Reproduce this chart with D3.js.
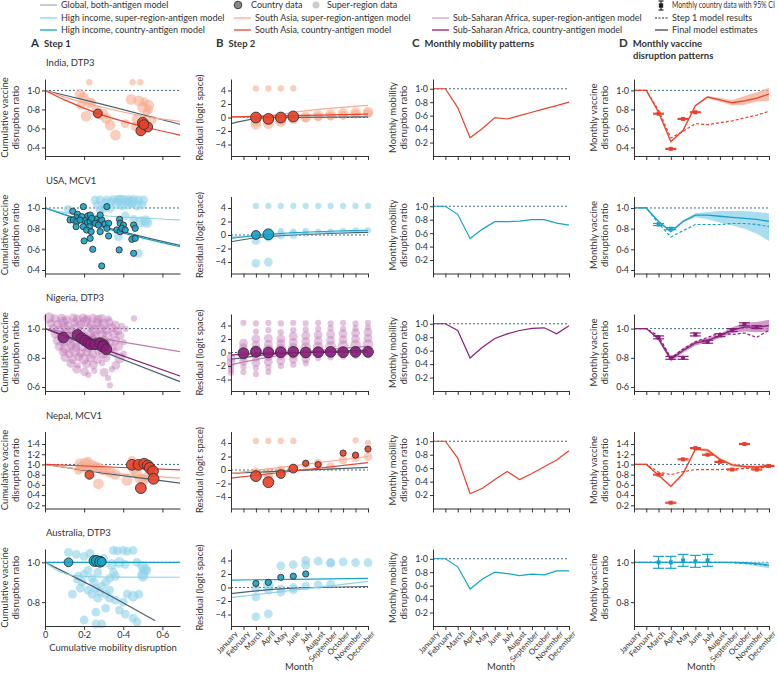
<!DOCTYPE html>
<html>
<head>
<meta charset="utf-8">
<script src="https://cdn.jsdelivr.net/npm/d3@7"></script>
<style>
body { margin: 0; background: #fff; }
text { font-family: Lato, 'Noto Sans', sans-serif; fill: #333; }
</style>
</head>
<body>
<div class="chart"></div>
<script>
// ---- data ----
const months = ['January','February','March','April','May','June','July','August','September','October','November','December'];
const rowTitles = ['India, DTP3','USA, MCV1','Nigeria, DTP3','Nepal, MCV1','Australia, DTP3'];
const rowRegion = ['sa','hi','ssa','sa','hi'];

// y axis settings for step 1 / panel D (per row)
const vacDomain = [[0.31,1.12],[0.366,1.111],[0.573,1.10],[0.137,1.645],[0.68,1.067]];
const vacTicks = [[0.4,0.6,0.8,1.0],[0.4,0.6,0.8,1.0],[0.6,0.8,1.0],[0.2,0.4,0.6,0.8,1.0,1.2,1.4],[0.8,1.0]];
const mobTicks = [0.2,0.4,0.6,0.8,1.0];
const residTicks = [-4,-2,0,2,4];
const mobilityTicks = [0,0.2,0.4,0.6];

// Step 1: [mobility disruption, vaccine ratio, weight]
const aSuper = [
  [[0.226,1.087,1],[0.448,1.087,1],[0.487,1.087,1],[0.18,0.958,3],[0.197,0.924,3],[0.227,0.868,3],[0.183,0.844,2],[0.265,0.785,3],[0.21,0.73,3],[0.313,0.705,3],[0.333,0.635,3],[0.36,0.53,3],[0.41,0.65,2],[0.44,0.906,3],[0.48,0.89,3],[0.508,0.88,2],[0.53,0.844,3],[0.52,0.775,2],[0.47,0.69,3],[0.46,0.62,2],[0.547,0.69,2],[0.52,0.636,1],[0.282,0.74,2],[0.495,0.6,3],[0.24,0.87,2],[0.3,0.76,2],[0.5,0.82,3],[0.53,0.8,2]],
  [[0.256,1.077,2],[0.282,1.077,2],[0.316,1.077,2],[0.35,1.084,2],[0.376,1.084,2],[0.401,1.084,2],[0.427,1.084,2],[0.453,1.084,2],[0.478,1.077,2],[0.504,1.077,2],[0.268,1.029,2],[0.299,0.997,2],[0.333,0.997,2],[0.367,1.045,3],[0.393,1.029,3],[0.419,1.039,3],[0.444,1.039,2],[0.47,1.029,3],[0.496,1.029,2],[0.282,0.981,2],[0.41,0.923,2],[0.453,0.89,2],[0.487,0.868,3],[0.513,0.877,3],[0.521,0.858,3],[0.119,0.987,2],[0.376,0.723,2],[0.478,0.561,2],[0.384,1.077,3],[0.444,1.061,3],[0.34,1.06,2],[0.31,1.05,2],[0.42,1.06,2]],
  [[0.02,1.075,3],[0.05,1.068,2],[0.085,1.072,2],[0.11,1.062,2],[0.145,1.074,2],[0.165,1.066,2],[0.195,1.073,2],[0.215,1.065,2],[0.245,1.071,2],[0.27,1.064,2],[0.29,1.07,2],[0.325,1.068,1],[0.455,1.07,1],
   [0.03,1.035,2],[0.065,1.03,2],[0.092,1.045,3],[0.118,1.022,2],[0.152,1.042,2],[0.183,1.028,2],[0.205,1.048,3],[0.238,1.025,2],[0.268,1.04,2],[0.3,1.03,3],[0.328,1.045,2],[0.36,1.025,2],[0.392,1.018,1],
   [0.042,1.002,2],[0.072,0.985,3],[0.098,1.012,2],[0.132,0.99,2],[0.162,1.004,3],[0.188,0.982,2],[0.228,1.008,2],[0.252,0.988,3],[0.282,1.0,3],[0.314,0.99,2],[0.343,1.006,2],[0.372,0.984,2],[0.412,0.998,1],
   [0.052,0.962,2],[0.083,0.948,2],[0.108,0.968,3],[0.142,0.952,2],[0.172,0.962,2],[0.198,0.944,3],[0.232,0.966,2],[0.258,0.952,2],[0.292,0.962,2],[0.318,0.946,3],[0.352,0.966,2],[0.384,0.952,2],
   [0.062,0.918,2],[0.094,0.906,2],[0.122,0.928,2],[0.148,0.912,3],[0.182,0.922,2],[0.212,0.904,2],[0.242,0.926,3],[0.272,0.91,2],[0.302,0.922,2],[0.334,0.906,2],[0.362,0.918,2],[0.402,0.908,1],
   [0.072,0.878,2],[0.104,0.866,3],[0.134,0.886,2],[0.158,0.872,2],[0.192,0.882,3],[0.222,0.866,2],[0.254,0.884,2],[0.282,0.872,2],[0.308,0.882,3],[0.342,0.868,2],[0.378,0.878,2],
   [0.092,0.842,2],[0.124,0.828,2],[0.152,0.846,3],[0.184,0.832,2],[0.214,0.842,2],[0.244,0.826,2],[0.274,0.846,2],[0.298,0.832,3],[0.352,0.838,2],[0.402,0.828,1],
   [0.102,0.802,2],[0.142,0.788,2],[0.172,0.806,2],[0.198,0.792,3],[0.232,0.8,2],[0.268,0.788,2],[0.312,0.802,2],[0.382,0.8,3],
   [0.132,0.762,2],[0.168,0.748,1],[0.212,0.758,2],[0.248,0.752,2],[0.292,0.764,1],[0.362,0.748,2],
   [0.162,0.722,2],[0.202,0.704,2],[0.252,0.712,1],[0.302,0.7,2],[0.342,0.722,1],[0.222,0.684,1],[0.322,0.662,1],[0.332,0.612,1]],
  [[0.179,1.013,3],[0.205,1.026,3],[0.222,1.065,2],[0.188,0.947,3],[0.213,0.934,3],[0.239,0.98,3],[0.256,0.96,3],[0.273,0.934,3],[0.29,0.895,3],[0.313,0.882,3],[0.333,0.85,3],[0.359,0.804,3],[0.273,0.621,3],[0.419,0.686,3],[0.444,1.078,2],[0.453,0.915,3],[0.47,0.817,3],[0.487,0.719,3],[0.504,0.686,3],[0.521,0.752,3],[0.231,0.915,2],[0.171,0.882,2],[0.538,0.869,2]],
  [[0.16,1.04,2],[0.2,1.03,2],[0.23,1.045,2],[0.35,1.06,2],[0.37,1.058,2],[0.4,1.06,2],[0.42,1.055,2],[0.45,1.06,2],[0.3,1.02,2],[0.34,0.99,3],[0.38,1.0,3],[0.41,0.99,2],[0.47,1.0,2],[0.5,0.98,3],[0.51,0.965,3],[0.5,0.94,3],[0.52,0.96,2],[0.35,0.95,2],[0.27,0.95,2],[0.22,0.96,2],[0.17,0.93,2],[0.2,0.94,2],[0.16,0.91,1],[0.19,0.9,2],[0.24,0.92,2],[0.25,0.9,2],[0.29,0.88,2],[0.31,0.9,2],[0.33,0.92,2],[0.36,0.93,2],[0.26,0.87,2],[0.22,0.86,2],[0.24,0.84,2],[0.28,0.85,2],[0.31,0.84,2],[0.33,0.86,2],[0.27,0.82,2],[0.33,0.82,2],[0.36,0.81,2],[0.4,0.8,2],[0.42,0.84,2],[0.45,0.83,3],[0.48,0.84,2],[0.38,0.76,2],[0.41,0.74,2],[0.45,0.72,2],[0.47,0.7,2],[0.26,0.75,2],[0.31,0.77,2],[0.2,0.71,2],[0.26,0.69,2],[0.14,0.84,2],[0.18,0.87,2],[0.29,0.69,2],[0.12,1.05,2],[0.5,0.93,3]]
];
const aCountry = [
  [[0.27,0.757,2],[0.5,0.66,3],[0.49,0.575,2.5],[0.525,0.615,2.5],[0.505,0.64,2.5]],
  [[0.142,0.968,1],[0.166,0.939,1],[0.162,0.906,1],[0.188,0.916,1],[0.128,0.884,1],[0.145,0.884,1],[0.162,0.868,1],[0.159,0.819,1],[0.196,1.013,1],[0.219,0.923,1],[0.231,0.932,1],[0.205,0.877,1],[0.217,0.858,1],[0.231,0.868,1],[0.248,0.884,1],[0.265,0.89,1],[0.282,0.868,1],[0.256,0.852,1],[0.273,0.835,1],[0.29,0.884,1],[0.307,0.845,1],[0.316,1.013,1],[0.325,0.852,1],[0.227,0.819,1],[0.196,0.819,1],[0.213,0.787,1],[0.236,0.771,1],[0.282,0.771,1],[0.316,0.803,1],[0.325,0.729,1],[0.2,0.681,1],[0.231,0.706,1],[0.244,0.6,1],[0.29,0.439,1],[0.381,0.89,1],[0.384,0.852,1],[0.367,0.787,1],[0.384,0.771,1],[0.401,0.835,1],[0.393,0.803,1],[0.41,0.787,1],[0.379,0.594,1],[0.453,0.835,1],[0.461,0.803,1],[0.444,0.697,1],[0.461,0.706,1],[0.453,0.561,1],[0.282,0.932,1],[0.239,0.9,1],[0.179,0.884,1]],
  [[0.094,0.939,3],[0.166,0.957,3],[0.188,0.934,3],[0.205,0.918,3],[0.222,0.904,3],[0.234,0.893,3],[0.256,0.893,3],[0.282,0.9,3],[0.299,0.888,3],[0.296,0.877,3],[0.313,0.859,3]],
  [[0.227,0.797,2],[0.444,0.993,3],[0.478,0.993,3],[0.507,1.013,3],[0.525,0.98,3],[0.535,0.934,3],[0.552,0.869,3],[0.555,0.719,3],[0.49,0.536,3]],
  [[0.12,1.0,2],[0.253,1.007,3],[0.265,1.007,3],[0.282,1.003,3],[0.29,1.003,2]]
];
// Step 1 model curves: [mobility disruption, ratio]
const aGlobalLine = [
  [[0,1],[0.3,0.85],[0.69,0.643]],
  [[0,1],[0.3,0.82],[0.69,0.638]],
  [[0,1],[0.3,0.84],[0.69,0.637]],
  [[0,1],[0.3,0.83],[0.69,0.634]],
  [[0,1],[0.3,0.85],[0.564,0.706]]
];
const aSuperLine = [
  [[0,1],[0.1,0.93],[0.3,0.82],[0.5,0.73],[0.69,0.675]],
  [[0,1],[0.1,0.955],[0.3,0.925],[0.69,0.884]],
  [[0,1],[0.3,0.93],[0.69,0.843]],
  [[0,1],[0.3,0.85],[0.69,0.732]],
  [[0,1],[0.077,0.953],[0.15,0.933],[0.3,0.926],[0.69,0.925]]
];
const aCountryLine = [
  [[0,1],[0.1,0.9],[0.28,0.75],[0.5,0.62],[0.69,0.53]],
  [[0,1],[0.3,0.81],[0.69,0.625]],
  [[0,1],[0.3,0.86],[0.69,0.676]],
  [[0,1],[0.3,0.955],[0.69,0.895]],
  [[0,1],[0.69,1]]
];

// Step 2 residuals: [month index, residual, weight]
const bSuper = [
  [[2,4.3,1],[2,-0.5,3],[2,-1.0,3],[3,4.3,1],[3,-0.4,3],[3,-0.9,3],[4,4.3,1],[4,-0.3,3],[4,-0.6,3],[5,4.3,1],[5,-0.2,3],[6,0.1,3],[6,-0.1,2],[7,0.3,3],[7,0.1,2],[8,0.4,3],[8,0.2,2],[9,0.6,3],[9,0.3,2],[10,0.7,3],[10,0.5,2],[11,0.8,3],[11,0.6,2]],
  [[2,4.3,1],[2,0.1,2],[2,-0.8,2],[2,-4.2,2],[3,4.3,1],[3,0.3,2],[3,-0.3,2],[3,-4.0,2],[4,4.3,1],[4,0.6,1],[4,0,2],[5,4.3,1],[5,0.5,1],[5,0.1,2],[6,4.3,1],[6,0.6,1],[6,0.2,1],[7,4.3,1],[7,0.5,1],[8,4.3,1],[8,0.5,1],[9,4.3,1],[9,0.6,1],[10,4.3,1],[10,0.7,1],[11,4.3,1],[11,0.7,1]],
  [[0,-0.8,2],[0,-1.5,2],[0,-2.1,1],[0,-2.6,1],[0,-3.0,1],
   [1,4.4,1],[1,1.4,2],[1,0.7,2],[1,-0.6,2],[1,-1.3,2],[1,-2.1,1],[1,-2.9,1],
   [2,4.3,1],[2,3.1,1],[2,2.0,2],[2,1.1,2],[2,0.3,3],[2,-0.7,2],[2,-1.5,2],[2,-2.3,1],[2,-3.2,1],
   [3,4.4,1],[3,3.3,1],[3,2.1,2],[3,1.2,2],[3,0.4,3],[3,-0.6,2],[3,-1.4,2],[3,-2.2,1],[3,-2.9,1],
   [4,4.3,1],[4,3.0,1],[4,2.0,2],[4,1.3,2],[4,0.5,3],[4,-0.4,2],[4,-1.2,2],[4,-2.0,1],
   [5,4.4,1],[5,3.3,1],[5,2.4,2],[5,1.5,2],[5,0.6,3],[5,-0.3,2],[5,-1.0,2],[5,-1.8,1],
   [6,4.3,1],[6,3.4,1],[6,2.5,2],[6,1.6,2],[6,0.7,3],[6,-0.2,2],[6,-0.9,2],[6,-1.6,1],
   [7,4.4,1],[7,3.5,1],[7,2.6,2],[7,1.7,2],[7,0.8,3],[7,0,2],[7,-0.8,1],
   [8,4.3,1],[8,3.6,1],[8,2.7,2],[8,1.8,2],[8,0.9,3],[8,0.1,2],[8,-0.7,1],
   [9,4.4,1],[9,3.5,1],[9,2.8,2],[9,1.9,2],[9,1.0,3],[9,0.2,2],[9,-0.6,1],
   [10,4.3,1],[10,3.6,1],[10,2.9,2],[10,2.0,2],[10,1.1,3],[10,0.3,2],[10,-0.5,1],
   [11,4.4,1],[11,3.7,1],[11,3.0,2],[11,2.1,2],[11,1.2,3],[11,0.4,2],[11,-0.4,1]],
  [[2,4.3,1],[2,-0.3,2],[3,4.3,1],[3,-0.5,3],[3,-1.0,2],[4,4.3,1],[4,0,2],[4,-0.3,2],[5,4.3,1],[5,0.3,2],[6,0.8,2],[7,1.0,2],[8,0.5,2],[9,1.5,2],[10,4.4,1],[10,1.8,2],[11,4.0,1],[11,2.0,2]],
  [[2,-0.1,2],[2,-1.4,2],[2,-4.3,2],[3,0.35,3],[3,-0.4,2],[3,-3.9,2],[4,3.2,2],[4,-0.2,2],[4,-0.7,2],[5,3.4,2],[5,0,2],[5,-0.35,2],[6,4.0,2],[6,3.3,2],[6,0.2,2],[7,3.9,2],[7,0.4,2],[8,3.7,2],[8,3.6,2],[8,0.5,2],[9,3.8,2],[10,3.7,2],[11,3.7,2]]
];
const bCountry = [
  [[2,0,3],[3,-0.2,3],[4,0,3],[5,0.15,3]],
  [[2,0,2],[3,0.1,3]],
  [[1,-0.1,3],[2,0.1,3],[3,0,3],[4,0.05,3],[5,0.1,3],[6,0,3],[7,0.05,3],[8,0.1,3],[9,0.05,3],[10,0.1,3],[11,0.1,3]],
  [[2,-0.9,3],[3,-1.8,3],[4,-0.6,2],[5,0.2,2],[6,1.0,1],[7,0.8,1],[9,2.5,1],[10,2.2,1],[11,3.1,1]],
  [[2,0.6,1],[3,0.76,1],[4,1.5,1],[5,1.67,1],[6,2.0,1]]
];
const bGlobalLine = [
  [[0,-0.9],[3,0],[11,0.1]],
  [[0,-1.0],[3,-0.2],[11,0.4]],
  [[0,-1.0],[3,-0.3],[11,0.3]],
  [[0,-0.5],[11,0.4]],
  [[0,-0.9],[4,-0.2],[11,0.15]]
];
const bSuperLine = [
  [[0,0],[3,0.3],[7,1.2],[11,1.8]],
  [[0,-0.3],[11,0.6]],
  [[0,-1.8],[4,-0.4],[11,0.9]],
  [[0,-0.5],[11,2.0]],
  [[0,-1.5],[11,0.9]]
];
const bCountryLine = [
  [[0,0.1],[11,0.5]],
  [[0,-0.5],[3,0.1],[11,0.7]],
  [[0,-0.4],[3,-0.1],[11,0.1]],
  [[0,-1.2],[11,1.1]],
  [[0,1.1],[11,1.35]]
];

// Monthly mobility disruption ratio
const mobility = [
  [1,1,0.72,0.27,0.41,0.57,0.55,0.6,0.65,0.7,0.75,0.8],
  [1,1,0.88,0.52,0.66,0.77,0.77,0.78,0.8,0.8,0.75,0.72],
  [1,1,0.9,0.49,0.65,0.78,0.85,0.9,0.93,0.94,0.85,0.97],
  [1,1,0.75,0.22,0.3,0.43,0.55,0.43,0.52,0.62,0.72,0.86],
  [1,1,0.88,0.55,0.7,0.8,0.78,0.75,0.77,0.76,0.82,0.82]
];

// Monthly vaccine disruption: final estimate, 95% UI, step 1 result
const dFinal = [
  [1,1,0.77,0.46,0.58,0.84,0.93,0.9,0.87,0.89,0.92,0.96],
  [1,1,0.87,0.77,0.87,0.93,0.93,0.92,0.91,0.9,0.89,0.87],
  [1,1,0.93,0.79,0.85,0.9,0.92,0.95,0.99,1.01,1.01,1.02],
  [1,1,0.79,0.57,0.82,1.3,1.28,1.1,0.99,0.96,0.95,0.97],
  [1,1,1,1,1,1,1,1,1,0.998,0.993,0.985]
];
const dLow = [
  [1,1,0.76,0.45,0.57,0.83,0.92,0.88,0.84,0.85,0.88,0.89],
  [1,1,0.86,0.76,0.86,0.91,0.89,0.86,0.83,0.8,0.75,0.68],
  [1,1,0.915,0.775,0.835,0.885,0.905,0.935,0.97,0.98,0.975,0.98],
  [1,1,0.77,0.55,0.8,1.27,1.25,1.07,0.96,0.93,0.92,0.93],
  [1,1,1,1,1,1,1,0.998,0.995,0.99,0.98,0.97]
];
const dHigh = [
  [1,1,0.78,0.47,0.59,0.85,0.94,0.92,0.9,0.94,0.98,1.03],
  [1,1,0.88,0.78,0.88,0.95,0.96,0.97,0.97,0.97,0.96,0.95],
  [1,1,0.945,0.805,0.865,0.915,0.935,0.965,1.01,1.04,1.045,1.06],
  [1,1,0.81,0.59,0.84,1.33,1.31,1.13,1.02,0.99,0.98,1.01],
  [1,1,1,1,1,1,1,1.002,1.003,1.003,1.002,1.0]
];
const dStep1 = [
  [1,1,0.79,0.5,0.57,0.65,0.64,0.66,0.68,0.71,0.74,0.78],
  [1,1,0.85,0.72,0.78,0.84,0.84,0.84,0.85,0.85,0.84,0.82],
  [1,1,0.95,0.8,0.86,0.91,0.94,0.97,0.96,0.97,0.94,0.99],
  [1,1,0.85,0.8,0.86,0.9,0.9,0.9,0.91,0.92,0.93,0.95],
  [1,1,1,1,1,1,1,1,0.998,0.995,0.99,0.985]
];
// observed monthly country data: [month index, value, lower, upper]
const dObs = [
  [[2,0.755,0.75,0.76],[3,0.385,0.38,0.39],[4,0.70,0.695,0.705],[5,0.77,0.765,0.775]],
  [[2,0.84,0.83,0.85],[3,0.80,0.79,0.81]],
  [[2,0.94,0.93,0.95],[3,0.80,0.79,0.81],[4,0.80,0.79,0.81],[5,0.96,0.95,0.97],[6,0.91,0.90,0.92],[7,0.955,0.945,0.965],[8,0.99,0.98,1.0],[9,1.03,1.02,1.04],[10,1.01,1.0,1.02]],
  [[2,0.8,0.79,0.81],[3,0.25,0.24,0.26],[4,1.1,1.09,1.11],[5,1.32,1.31,1.33],[6,1.19,1.18,1.2],[7,1.05,1.04,1.06],[8,0.9,0.89,0.91],[9,1.4,1.39,1.41],[10,0.9,0.89,0.91],[11,0.97,0.96,0.98]],
  [[2,1.0,0.97,1.03],[3,1.0,0.97,1.03],[4,1.01,0.98,1.04],[5,1.005,0.975,1.035],[6,1.01,0.98,1.04]]
];

// ---- styles / layout ----
const regionColors = { sa: ['#f6ab90', '#e8412a'], hi: ['#8ed2ea', '#17a3c7'], ssa: ['#c07ab5', '#8b1d7b'] };
const globalColor = '#4a6170';
const refColor = '#3f6a85';
const axisColor = '#333';
const W = 778, H = 673;
const colX = { A: [45, 180], B: [231, 368], C: [433, 569], D: [634, 769] };
const rowTop = r => 79 + r * 117.5;
const ph = 77;

const svg = d3.select('.chart').append('svg')
  .attr('width', W)
  .attr('height', H);

const fmt = d => d === 0 ? '0' : d3.format('.1f')(d).replace('.', '\u00b7');
const fmtInt = d => d < 0 ? '\u2212' + Math.abs(d) : String(d);
const rScale = d3.scaleSqrt().domain([0, 3]).range([0, 5.4]);

function yAxis(g, y, x0, ticks, f) {
  const ax = g.append('g').attr('transform', `translate(${x0},0)`)
    .call(d3.axisLeft(y).tickValues(ticks).tickFormat(f).tickSize(3).tickSizeOuter(0).tickPadding(2));
  ax.select('.domain').attr('stroke', axisColor);
  ax.selectAll('.tick line').attr('stroke', axisColor);
  ax.selectAll('.tick text').style('font-size', '9px').attr('fill', '#333');
  return ax;
}
function xAxis(g, x, yPos, ticks, f, showLabels) {
  const a = d3.axisBottom(x).tickSize(4).tickSizeOuter(0).tickPadding(2);
  if (ticks) a.tickValues(ticks);
  a.tickFormat(showLabels ? f : '');
  const ax = g.append('g').attr('transform', `translate(0,${yPos})`).call(a);
  ax.select('.domain').attr('stroke', axisColor);
  ax.selectAll('.tick line').attr('stroke', axisColor);
  ax.selectAll('.tick text').style('font-size', '9px').attr('fill', '#333');
  return ax;
}
function monthLabels(ax) {
  ax.selectAll('.tick text')
    .style('font-size', '8px')
    .attr('text-anchor', 'end')
    .attr('transform', 'rotate(-48)')
    .attr('dx', '-0.2em')
    .attr('dy', '0.55em');
}
function yLabel(lines, x, yc) {
  lines.forEach((t, i) => {
    svg.append('text')
      .attr('transform', `translate(${x + i * 11},${yc}) rotate(-90)`)
      .attr('text-anchor', 'middle')
      .style('font-size', '9.5px')
      .text(t);
  });
}
function refLine(g, x0, x1, yv) {
  g.append('line')
    .attr('x1', x0).attr('x2', x1)
    .attr('y1', yv).attr('y2', yv)
    .attr('stroke', refColor)
    .attr('stroke-width', 1)
    .attr('stroke-dasharray', '2,2');
}

// ---- section headings ----
const heads = [['A', 'Step 1', 31, 47], ['B', 'Step 2', 216, 47], ['C', 'Monthly mobility patterns', 412, 47], ['D', 'Monthly vaccine', 619, 47]];
heads.forEach(h => {
  const t = svg.append('text').attr('x', h[2]).attr('y', h[3]);
  t.append('tspan').text(h[0]).style('font-size', '11.5px').style('font-weight', 'bold');
  t.append('tspan').attr('dx', 5).text(h[1]).style('font-size', '9.5px').style('font-weight', 'bold');
});
svg.append('text').attr('x', 633).attr('y', 59).text('disruption patterns').style('font-size', '9.5px').style('font-weight', 'bold');

// ---- rows ----
rowTitles.forEach((title, r) => {
  const top = rowTop(r), bot = top + ph;
  const [light, dark] = regionColors[rowRegion[r]];
  const last = r === rowTitles.length - 1;
  const op = rowRegion[r] === 'ssa' ? 0.45 : 0.6;
  const g = svg.append('g');

  g.append('text').attr('x', 46).attr('y', top - 13).text(title).style('font-size', '9.5px');

  // A: step 1
  const xA = d3.scaleLinear().domain([0, 0.69]).range(colX.A);
  const yA = d3.scaleLinear().domain(vacDomain[r]).range([bot, top]);
  refLine(g, colX.A[0], colX.A[1], yA(1));
  g.append('g').selectAll('circle').data(aSuper[r]).join('circle')
    .attr('cx', d => xA(d[0])).attr('cy', d => yA(d[1])).attr('r', d => rScale(d[2]))
    .attr('fill', light).attr('fill-opacity', op);
  const lineA = d3.line().x(d => xA(d[0])).y(d => yA(d[1])).curve(d3.curveMonotoneX);
  g.append('path').attr('d', lineA(aGlobalLine[r])).attr('fill', 'none').attr('stroke', globalColor).attr('stroke-width', 1.2);
  g.append('path').attr('d', lineA(aSuperLine[r])).attr('fill', 'none').attr('stroke', light).attr('stroke-width', 1.2);
  g.append('path').attr('d', lineA(aCountryLine[r])).attr('fill', 'none').attr('stroke', dark).attr('stroke-width', 1.2);
  g.append('g').selectAll('circle').data(aCountry[r]).join('circle')
    .attr('cx', d => xA(d[0])).attr('cy', d => yA(d[1])).attr('r', d => rScale(d[2]))
    .attr('fill', dark).attr('fill-opacity', 0.9).attr('stroke', '#333').attr('stroke-width', 0.9);
  yAxis(g, yA, colX.A[0], vacTicks[r], fmt);
  xAxis(g, xA, bot, mobilityTicks, fmt, last);
  yLabel(['Cumulative vaccine', 'disruption ratio'], 8, top + ph / 2);

  // B: step 2
  const xB = d3.scalePoint().domain(d3.range(12)).range(colX.B);
  const yB = d3.scaleLinear().domain([-5.7, 5.7]).range([bot, top]);
  refLine(g, colX.B[0], colX.B[1], yB(0));
  g.append('g').selectAll('circle').data(bSuper[r]).join('circle')
    .attr('cx', d => xB(d[0])).attr('cy', d => yB(d[1])).attr('r', d => rScale(d[2]))
    .attr('fill', light).attr('fill-opacity', op);
  const lineB = d3.line().x(d => xB(d[0])).y(d => yB(d[1])).curve(d3.curveMonotoneX);
  g.append('path').attr('d', lineB(bGlobalLine[r])).attr('fill', 'none').attr('stroke', globalColor).attr('stroke-width', 1.2);
  g.append('path').attr('d', lineB(bSuperLine[r])).attr('fill', 'none').attr('stroke', light).attr('stroke-width', 1.2);
  g.append('path').attr('d', lineB(bCountryLine[r])).attr('fill', 'none').attr('stroke', dark).attr('stroke-width', 1.2);
  g.append('g').selectAll('circle').data(bCountry[r]).join('circle')
    .attr('cx', d => xB(d[0])).attr('cy', d => yB(d[1])).attr('r', d => rScale(d[2]))
    .attr('fill', dark).attr('fill-opacity', 0.9).attr('stroke', '#333').attr('stroke-width', 0.9);
  yAxis(g, yB, colX.B[0], residTicks, fmtInt);
  const axB = xAxis(g, xB, bot, null, i => months[i], last);
  if (last) monthLabels(axB);
  yLabel(['Residual (logit space)'], 203, top + ph / 2);

  // C: mobility
  const xC = d3.scalePoint().domain(d3.range(12)).range(colX.C);
  const yC = d3.scaleLinear().domain([0, 1.145]).range([bot, top]);
  refLine(g, colX.C[0], colX.C[1], yC(1));
  g.append('path').datum(mobility[r])
    .attr('d', d3.line().x((d, i) => xC(i)).y(d => yC(d)))
    .attr('fill', 'none').attr('stroke', dark).attr('stroke-width', 1.2);
  yAxis(g, yC, colX.C[0], mobTicks, fmt);
  const axC = xAxis(g, xC, bot, null, i => months[i], last);
  if (last) monthLabels(axC);
  yLabel(['Monthly mobility', 'disruption ratio'], 396, top + ph / 2);

  // D: vaccine disruption
  const xD = d3.scalePoint().domain(d3.range(12)).range(colX.D);
  const yD = d3.scaleLinear().domain(vacDomain[r]).range([bot, top]);
  refLine(g, colX.D[0], colX.D[1], yD(1));
  g.append('path').datum(d3.range(12))
    .attr('d', d3.area().x(i => xD(i)).y0(i => yD(dLow[r][i])).y1(i => yD(dHigh[r][i])))
    .attr('fill', light).attr('fill-opacity', 0.75);
  g.append('path').datum(dStep1[r])
    .attr('d', d3.line().x((d, i) => xD(i)).y(d => yD(d)))
    .attr('fill', 'none').attr('stroke', dark).attr('stroke-width', 1.2).attr('stroke-dasharray', '3,2');
  g.append('path').datum(dFinal[r])
    .attr('d', d3.line().x((d, i) => xD(i)).y(d => yD(d)))
    .attr('fill', 'none').attr('stroke', dark).attr('stroke-width', 1.3);
  const obs = g.append('g').selectAll('g').data(dObs[r]).join('g').attr('transform', d => `translate(${xD(d[0])},0)`);
  obs.append('line').attr('y1', d => yD(d[2])).attr('y2', d => yD(d[3])).attr('stroke', dark).attr('stroke-width', 1.2);
  obs.append('line').attr('x1', -5.5).attr('x2', 5.5).attr('y1', d => yD(d[2])).attr('y2', d => yD(d[2])).attr('stroke', dark).attr('stroke-width', 1.2);
  obs.append('line').attr('x1', -5.5).attr('x2', 5.5).attr('y1', d => yD(d[3])).attr('y2', d => yD(d[3])).attr('stroke', dark).attr('stroke-width', 1.2);
  obs.append('rect').attr('x', -2).attr('width', 4).attr('y', d => yD(d[1]) - 2).attr('height', 4).attr('fill', dark);
  yAxis(g, yD, colX.D[0], vacTicks[r], fmt);
  const axD = xAxis(g, xD, bot, null, i => months[i], last);
  if (last) monthLabels(axD);
  yLabel(['Monthly vaccine', 'disruption ratio'], 597, top + ph / 2);
});

// axis titles
svg.append('text').attr('x', 113).attr('y', 651).attr('text-anchor', 'middle').style('font-size', '9.5px').text('Cumulative mobility disruption');
[299, 501, 701].forEach(x => svg.append('text').attr('x', x).attr('y', 670).attr('text-anchor', 'middle').style('font-size', '9.5px').text('Month'));

// ---- legend ----
const legLines = [
  [40, 5, '#a9b1b6', 'Global, both-antigen model'],
  [40, 18, regionColors.hi[0], 'High income, super-region-antigen model'],
  [40, 30, regionColors.hi[1], 'High income, country-antigen model'],
  [234, 18, regionColors.sa[0], 'South Asia, super-region-antigen model'],
  [234, 30, regionColors.sa[1], 'South Asia, country-antigen model'],
  [432, 18, '#d69fcd', 'Sub-Saharan Africa, super-region-antigen model'],
  [432, 30, regionColors.ssa[1], 'Sub-Saharan Africa, country-antigen model']
];
legLines.forEach(d => {
  svg.append('line').attr('x1', d[0]).attr('x2', d[0] + 17).attr('y1', d[1]).attr('y2', d[1]).attr('stroke', d[2]).attr('stroke-width', 1.3);
  svg.append('text').attr('x', d[0] + 21).attr('y', d[1] + 3).style('font-size', '9px').text(d[3]);
});
svg.append('circle').attr('cx', 238).attr('cy', 5).attr('r', 3.8).attr('fill', '#888').attr('stroke', '#333').attr('stroke-width', 0.9);
svg.append('text').attr('x', 251).attr('y', 8).style('font-size', '9px').text('Country data');
svg.append('circle').attr('cx', 316).attr('cy', 5).attr('r', 3.5).attr('fill', '#ccc');
svg.append('text').attr('x', 327).attr('y', 8).style('font-size', '9px').text('Super-region data');
// error bar symbol
const eb = svg.append('g').attr('transform', 'translate(661,0)');
eb.append('line').attr('y1', 1).attr('y2', 10).attr('stroke', '#222').attr('stroke-width', 1.2);
eb.append('line').attr('x1', -2.5).attr('x2', 2.5).attr('y1', 1).attr('y2', 1).attr('stroke', '#222').attr('stroke-width', 1.2);
eb.append('line').attr('x1', -2.5).attr('x2', 2.5).attr('y1', 10).attr('y2', 10).attr('stroke', '#222').attr('stroke-width', 1.2);
eb.append('rect').attr('x', -2.2).attr('y', 3.3).attr('width', 4.4).attr('height', 4.4).attr('fill', '#222');
svg.append('text').attr('transform', 'translate(672,8) scale(0.76,1)').style('font-size', '9px')
  .text('Monthly country data with 95% CI');
svg.append('line').attr('x1', 655).attr('x2', 668).attr('y1', 18).attr('y2', 18).attr('stroke', '#222').attr('stroke-width', 1.1).attr('stroke-dasharray', '2,1.5');
svg.append('text').attr('x', 672).attr('y', 21).style('font-size', '9px').text('Step 1 model results');
svg.append('line').attr('x1', 655).attr('x2', 668).attr('y1', 30).attr('y2', 30).attr('stroke', '#222').attr('stroke-width', 1.1);
svg.append('text').attr('x', 672).attr('y', 33).style('font-size', '9px').text('Final model estimates');
</script>
</body>
</html>
